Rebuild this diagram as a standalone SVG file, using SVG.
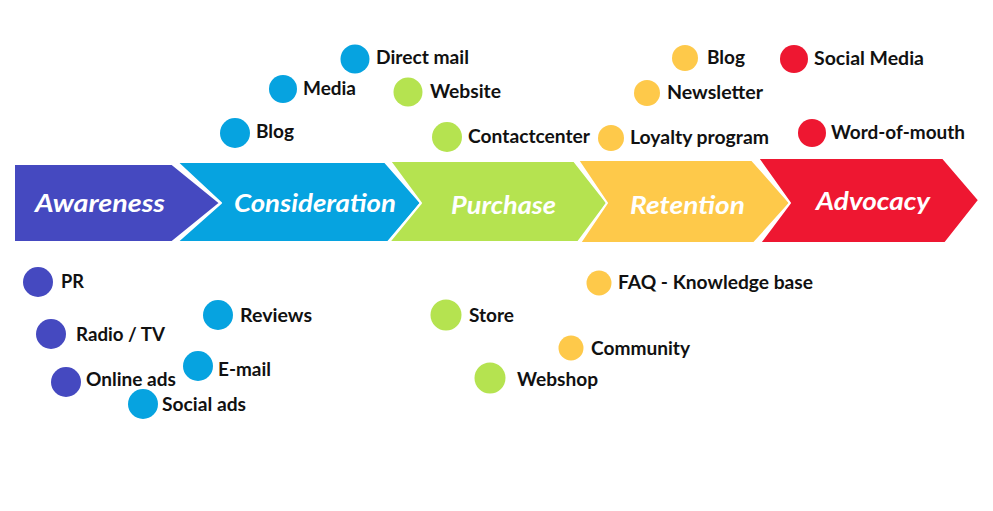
<svg xmlns="http://www.w3.org/2000/svg" width="993" height="511" viewBox="0 0 993 511">
<style>
.stage{stroke:#fff;stroke-width:2;stroke-linejoin:round}
.st{font-family:Lato,"Open Sans","Liberation Sans",sans-serif;font-weight:bold;font-style:italic;font-size:25px;fill:#fff}
.lb{font-family:Lato,"Open Sans","Liberation Sans",sans-serif;font-weight:bold;font-size:18px;fill:#111}
.c1{fill:#4549C0}.c2{fill:#06A3E0}.c3{fill:#B5E350}.c4{fill:#FEC94A}.c5{fill:#EE1731}
</style>
<rect width="993" height="511" fill="#fff"/>
<g id="awareness"><polygon class="stage c1" points="14,164 172,164 220,203 172,242 14,242"/><text class="st" x="35" y="212" textLength="130" lengthAdjust="spacingAndGlyphs">Awareness</text></g>
<g id="consideration"><polygon class="stage c2" points="177,162 385,162 421,203 388,242 177,242 221,203"/><text class="st" x="234" y="212" textLength="162" lengthAdjust="spacingAndGlyphs">Consideration</text></g>
<g id="purchase"><polygon class="stage c3" points="390,161 574,161 607,203 578,242 389,242 421,203"/><text class="st" x="451" y="214" textLength="105" lengthAdjust="spacingAndGlyphs">Purchase</text></g>
<g id="retention"><polygon class="stage c4" points="578,160 752,160 790,203 754,243 580,243 607,203"/><text class="st" x="630" y="214" textLength="115" lengthAdjust="spacingAndGlyphs">Retention</text></g>
<g id="advocacy"><polygon class="stage c5" points="758,158 943,158 979,200 945,243 760,243 790,203"/><text class="st" x="816" y="210" textLength="114" lengthAdjust="spacingAndGlyphs">Advocacy</text></g>

<g id="pr"><circle class="c1" cx="38" cy="282" r="15"/><text class="lb" x="61" y="288" textLength="23" lengthAdjust="spacingAndGlyphs">PR</text></g>
<g id="radio-tv"><circle class="c1" cx="51" cy="334" r="15"/><text class="lb" x="76" y="341" textLength="89" lengthAdjust="spacingAndGlyphs">Radio / TV</text></g>
<g id="online-ads"><circle class="c1" cx="66" cy="382" r="15"/><text class="lb" x="86" y="386" textLength="90" lengthAdjust="spacingAndGlyphs">Online ads</text></g>
<g id="reviews"><circle class="c2" cx="218" cy="315" r="15"/><text class="lb" x="240" y="322" textLength="72" lengthAdjust="spacingAndGlyphs">Reviews</text></g>
<g id="email"><circle class="c2" cx="198" cy="366" r="15"/><text class="lb" x="218" y="376" textLength="53" lengthAdjust="spacingAndGlyphs">E-mail</text></g>
<g id="social-ads"><circle class="c2" cx="143" cy="404" r="15"/><text class="lb" x="162" y="411" textLength="84" lengthAdjust="spacingAndGlyphs">Social ads</text></g>
<g id="blog-1"><circle class="c2" cx="235" cy="133" r="15"/><text class="lb" x="256" y="138" textLength="38" lengthAdjust="spacingAndGlyphs">Blog</text></g>
<g id="media"><circle class="c2" cx="283" cy="89" r="14"/><text class="lb" x="303" y="95" textLength="53" lengthAdjust="spacingAndGlyphs">Media</text></g>
<g id="direct-mail"><circle class="c2" cx="355" cy="59" r="14.5"/><text class="lb" x="376" y="64" textLength="93" lengthAdjust="spacingAndGlyphs">Direct mail</text></g>
<g id="website"><circle class="c3" cx="408" cy="92" r="14.5"/><text class="lb" x="430" y="98" textLength="71" lengthAdjust="spacingAndGlyphs">Website</text></g>
<g id="contactcenter"><circle class="c3" cx="447" cy="137" r="15"/><text class="lb" x="468" y="143" textLength="122" lengthAdjust="spacingAndGlyphs">Contactcenter</text></g>
<g id="store"><circle class="c3" cx="446" cy="315" r="15.5"/><text class="lb" x="469" y="322" textLength="45" lengthAdjust="spacingAndGlyphs">Store</text></g>
<g id="webshop"><circle class="c3" cx="490" cy="378" r="15.5"/><text class="lb" x="517" y="386" textLength="81" lengthAdjust="spacingAndGlyphs">Webshop</text></g>
<g id="faq"><circle class="c4" cx="599" cy="283" r="12.5"/><text class="lb" x="618" y="289" textLength="195" lengthAdjust="spacingAndGlyphs">FAQ - Knowledge base</text></g>
<g id="community"><circle class="c4" cx="571" cy="348" r="12.5"/><text class="lb" x="591" y="355" textLength="99" lengthAdjust="spacingAndGlyphs">Community</text></g>
<g id="blog-2"><circle class="c4" cx="685" cy="58" r="13"/><text class="lb" x="707" y="64" textLength="38" lengthAdjust="spacingAndGlyphs">Blog</text></g>
<g id="newsletter"><circle class="c4" cx="647" cy="93" r="13"/><text class="lb" x="667" y="99" textLength="96" lengthAdjust="spacingAndGlyphs">Newsletter</text></g>
<g id="loyalty"><circle class="c4" cx="611" cy="138" r="13"/><text class="lb" x="630" y="144" textLength="139" lengthAdjust="spacingAndGlyphs">Loyalty program</text></g>
<g id="social-media"><circle class="c5" cx="794" cy="59" r="14"/><text class="lb" x="814" y="65" textLength="110" lengthAdjust="spacingAndGlyphs">Social Media</text></g>
<g id="word-of-mouth"><circle class="c5" cx="812" cy="133" r="14"/><text class="lb" x="831" y="139" textLength="134" lengthAdjust="spacingAndGlyphs">Word-of-mouth</text></g>
</svg>
